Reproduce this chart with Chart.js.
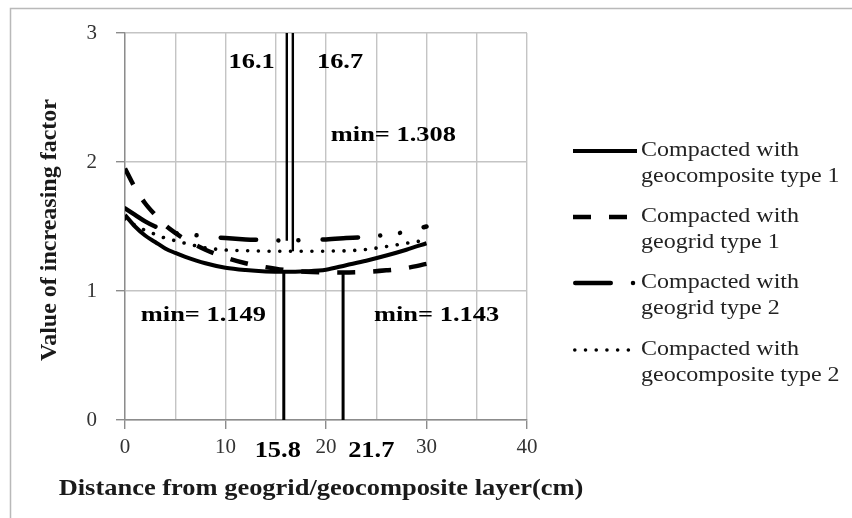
<!DOCTYPE html>
<html>
<head>
<meta charset="utf-8">
<script src="https://cdn.jsdelivr.net/npm/chart.js@4/dist/chart.umd.min.js"></script>
<style>
  html, body { margin: 0; padding: 0; background: #ffffff; }
  #wrap { width: 852px; height: 518px; position: relative; }
  canvas { display: block; }
</style>
</head>
<body>
<div id="wrap"><canvas id="c" width="852" height="518"></canvas></div>
<script>
// Distance from the reinforcement layer (cm) and increasing factor, per compaction case
const xGeocomposite1 = [0, 1, 2, 3, 4, 5, 6, 8, 10, 12, 14, 15.8, 18, 20, 22, 24, 26, 28, 30];
const yGeocomposite1 = [1.59, 1.50, 1.43, 1.38, 1.33, 1.295, 1.265, 1.215, 1.18, 1.162, 1.152, 1.149, 1.153, 1.165, 1.20, 1.235, 1.275, 1.32, 1.37];

const xGeogrid1 = [0, 1, 2, 3, 4, 5, 6, 8, 10, 12, 14, 16, 18, 20, 21.7, 24, 26, 28, 30];
const yGeogrid1 = [1.95, 1.80, 1.68, 1.59, 1.51, 1.45, 1.40, 1.32, 1.26, 1.215, 1.185, 1.162, 1.15, 1.145, 1.143, 1.148, 1.16, 1.178, 1.21];

const xGeogrid2 = [0, 1, 2, 3, 4, 5, 6, 8, 10, 12, 14, 16.1, 18, 20, 22, 24, 26, 28, 30];
const yGeogrid2 = [1.64, 1.59, 1.54, 1.50, 1.47, 1.45, 1.44, 1.425, 1.41, 1.40, 1.395, 1.39, 1.395, 1.40, 1.41, 1.42, 1.435, 1.46, 1.50];

const xGeocomposite2 = [0, 1, 2, 3, 4, 5, 6, 8, 10, 12, 14, 16.7, 18, 20, 22, 24, 26, 28, 30];
const yGeocomposite2 = [1.56, 1.51, 1.47, 1.44, 1.41, 1.39, 1.37, 1.335, 1.318, 1.312, 1.309, 1.308, 1.308, 1.309, 1.312, 1.322, 1.345, 1.37, 1.395];

const seriesNames = [
  ['Compacted with', 'geocomposite type 1'],
  ['Compacted with', 'geogrid type 1'],
  ['Compacted with', 'geogrid type 2'],
  ['Compacted with', 'geocomposite type 2']
];

// Vertical marker lines at the minimum locations
const markerX = [15.8, 21.7, 16.1, 16.7];
const markerFrom = [0, 0, 3, 3];
const markerTo = [1.149, 1.143, 1.39, 1.308];
const markerLabels = ['15.8', '21.7', '16.1', '16.7'];
const minLabels = ['min= 1.149', 'min= 1.143', 'min= 1.308'];

const xTickValues = [0, 10, 20, 30, 40];
const yTickValues = [0, 1, 2, 3];

const xTitle = 'Distance from geogrid/geocomposite layer(cm)';
const yTitle = 'Value of increasing factor';

const toPoints = (xs, ys) => xs.map((x, i) => ({ x: x, y: ys[i] }));

const AXIS = '#8c8c8c';
const GRID = '#c4c4c4';
const SERIF = '"Liberation Serif", "Times New Roman", serif';

const curveBase = {
  showLine: true,
  pointRadius: 0,
  pointHoverRadius: 0,
  fill: false,
  borderColor: '#000000',
  cubicInterpolationMode: 'monotone'
};

const curves = [
  Object.assign({}, curveBase, {
    label: seriesNames[0].join(' '),
    data: toPoints(xGeocomposite1, yGeocomposite1),
    borderWidth: 4, borderDash: [], borderCapStyle: 'butt'
  }),
  Object.assign({}, curveBase, {
    label: seriesNames[1].join(' '),
    data: toPoints(xGeogrid1, yGeogrid1),
    borderWidth: 4.5, borderDash: [18, 18], borderCapStyle: 'butt'
  }),
  Object.assign({}, curveBase, {
    label: seriesNames[2].join(' '),
    data: toPoints(xGeogrid2, yGeogrid2),
    borderWidth: 4.5, borderDash: [35.5, 22.25, 0.01, 20, 0.01, 24.25], borderCapStyle: 'round'
  }),
  Object.assign({}, curveBase, {
    label: seriesNames[3].join(' '),
    data: toPoints(xGeocomposite2, yGeocomposite2),
    borderWidth: 3.6, borderDash: [0.01, 10.7], borderCapStyle: 'round'
  })
];

const markers = markerX.map((x, i) => ({
  label: 'marker ' + markerLabels[i],
  showLine: true,
  pointRadius: 0,
  pointHoverRadius: 0,
  borderColor: '#000000',
  borderWidth: i < 2 ? 3 : 2.4,
  data: [{ x: x, y: markerFrom[i] }, { x: x, y: markerTo[i] }]
}));

function stretchText(ctx, str, x, y, font, sx, align, color) {
  ctx.save();
  ctx.font = font;
  ctx.fillStyle = color;
  ctx.textBaseline = 'middle';
  ctx.textAlign = 'left';
  const w = ctx.measureText(str).width * sx;
  const left = align === 'center' ? x - w / 2 : (align === 'right' ? x - w : x);
  ctx.translate(left, y);
  ctx.scale(sx, 1);
  ctx.fillText(str, 0, 0);
  ctx.restore();
}

const decorations = {
  id: 'decorations',
  afterDraw(chart) {
    const ctx = chart.ctx;
    const xs = chart.scales.x, ys = chart.scales.y;

    // outer frame
    ctx.save();
    ctx.strokeStyle = '#b9b9b9';
    ctx.lineWidth = 1.5;
    ctx.beginPath();
    ctx.moveTo(10.5, 518);
    ctx.lineTo(10.5, 8.5);
    ctx.lineTo(852, 8.5);
    ctx.stroke();
    ctx.restore();

    // value labels of the marker lines
    const bold22 = 'bold 22px ' + SERIF;
    const bold24 = 'bold 24px ' + SERIF;
    stretchText(ctx, markerLabels[2], xs.getPixelForValue(12.6), ys.getPixelForValue(2.77), bold22, 1.2, 'center', '#000');
    stretchText(ctx, markerLabels[3], xs.getPixelForValue(21.4), ys.getPixelForValue(2.77), bold22, 1.2, 'center', '#000');
    stretchText(ctx, minLabels[2], xs.getPixelForValue(26.7), ys.getPixelForValue(2.21), bold22, 1.2, 'center', '#000');
    stretchText(ctx, minLabels[0], xs.getPixelForValue(7.8), ys.getPixelForValue(0.814), bold22, 1.2, 'center', '#000');
    stretchText(ctx, minLabels[1], xs.getPixelForValue(31.0), ys.getPixelForValue(0.814), bold22, 1.2, 'center', '#000');
    stretchText(ctx, markerLabels[0], xs.getPixelForValue(15.2), 451, bold24, 1.1, 'center', '#000');
    stretchText(ctx, markerLabels[1], xs.getPixelForValue(24.5), 451, bold24, 1.1, 'center', '#000');

    // axis titles
    stretchText(ctx, xTitle, 321, 489, 'bold 23px ' + SERIF, 1.15, 'center', '#1a1a1a');
    ctx.save();
    ctx.translate(50, 230);
    ctx.rotate(-Math.PI / 2);
    stretchText(ctx, yTitle, 0, 0, 'bold 24px ' + SERIF, 1.0, 'center', '#1a1a1a');
    ctx.restore();

    // legend
    const rowY = [151, 217, 283, 350];
    const sx0 = 573, sx1 = 637;
    curves.forEach((ds, i) => {
      const y = rowY[i];
      ctx.save();
      ctx.strokeStyle = ds.borderColor;
      ctx.lineWidth = ds.borderWidth;
      ctx.lineCap = ds.borderCapStyle;
      ctx.setLineDash(ds.borderDash);
      const inset = ds.borderCapStyle === 'round' ? ds.borderWidth / 2 : 0;
      ctx.beginPath();
      ctx.moveTo(sx0 + inset, y);
      ctx.lineTo(sx1 - inset, y);
      ctx.stroke();
      ctx.restore();
      stretchText(ctx, seriesNames[i][0], 641, y, '20px ' + SERIF, 1.2, 'left', '#222');
      stretchText(ctx, seriesNames[i][1], 641, y + 26, '20px ' + SERIF, 1.2, 'left', '#222');
    });
  }
};

new Chart(document.getElementById('c'), {
  type: 'scatter',
  data: { datasets: markers.concat(curves) },
  options: {
    responsive: false,
    animation: false,
    events: [],
    layout: { padding: { left: 0, right: 325, top: 33, bottom: 0 } },
    plugins: { legend: { display: false }, tooltip: { enabled: false } },
    scales: {
      x: {
        type: 'linear',
        min: 0, max: 40,
        afterBuildTicks: s => {
          const t = [];
          for (let v = 0; v <= 40; v += 5) t.push({ value: v });
          s.ticks = t;
        },
        ticks: {
          autoSkip: false,
          maxRotation: 0,
          padding: 6,
          color: '#333333',
          font: { family: SERIF, size: 21 },
          callback: v => xTickValues.includes(v) ? String(v) : ''
        },
        grid: {
          color: GRID,
          lineWidth: 1.4,
          tickLength: 9,
          tickWidth: 1.4,
          tickColor: c => (c.tick && xTickValues.includes(c.tick.value)) ? AXIS : 'rgba(0,0,0,0)'
        },
        border: { color: AXIS, width: 1.4 },
        afterFit: s => { s.height = 98; }
      },
      y: {
        type: 'linear',
        min: 0, max: 3,
        afterBuildTicks: s => { s.ticks = yTickValues.map(v => ({ value: v })); },
        ticks: {
          padding: 19,
          color: '#333333',
          font: { family: SERIF, size: 21 }
        },
        grid: {
          color: GRID,
          lineWidth: 1.4,
          tickLength: 9,
          tickWidth: 1.4,
          tickColor: AXIS
        },
        border: { color: AXIS, width: 1.4 },
        afterFit: s => { s.width = 125; }
      }
    }
  },
  plugins: [decorations]
});
</script>
</body>
</html>
